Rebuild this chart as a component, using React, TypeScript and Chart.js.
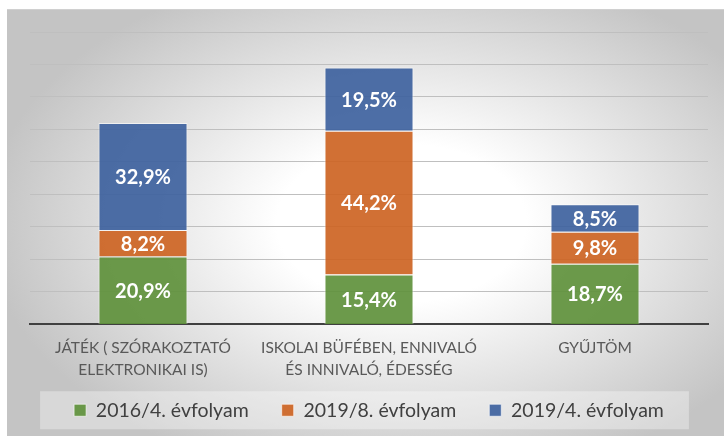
import React, { useEffect, useRef } from "react";
import { Chart, registerables } from "chart.js";

Chart.register(...registerables);

const categories: (string | string[])[] = [
  ["JÁTÉK ( SZÓRAKOZTATÓ", "ELEKTRONIKAI IS)"],
  ["ISKOLAI BÜFÉBEN, ENNIVALÓ", "ÉS INNIVALÓ, ÉDESSÉG"],
  "GYŰJTÖM",
];
const series2016g4 = [20.9, 15.4, 18.7];
const series2019g8 = [8.2, 44.2, 9.8];
const series2019g4 = [32.9, 19.5, 8.5];
const seriesNames = ["2016/4. évfolyam", "2019/8. évfolyam", "2019/4. évfolyam"];
const yMax = 90;
const yStep = 10;

const FONT = "Lato, 'Open Sans', sans-serif";
const LEGEND_OVERLAP = 19;

const valueLabels = {
  id: "valueLabels",
  afterDatasetsDraw(chart: any) {
    const ctx = chart.ctx;
    ctx.save();
    ctx.font = `bold 20px ${FONT}`;
    ctx.fillStyle = "#ffffff";
    ctx.textAlign = "center";
    ctx.textBaseline = "middle";
    chart.data.datasets.forEach((ds: any, i: number) => {
      const meta = chart.getDatasetMeta(i);
      meta.data.forEach((el: any, j: number) => {
        const v = ds.data[j];
        const y = (el.y + el.base) / 2;
        ctx.fillText(v.toFixed(1).replace(".", ",") + "%", el.x, y + 1);
      });
    });
    ctx.restore();
  },
};

// lets the legend's padded box overlap the bottom of the category labels, as in the original
const legendFit = {
  id: "legendFit",
  beforeLayout(chart: any) {
    const lg = chart.legend;
    if (lg && !lg.__patched) {
      const orig = lg.fit;
      lg.fit = function (this: any) {
        orig.call(this);
        this.height = Math.max(0, this.height - LEGEND_OVERLAP);
      };
      lg.__patched = true;
    }
  },
  afterLayout(chart: any) {
    const lg = chart.legend;
    if (lg) {
      lg.top -= LEGEND_OVERLAP;
      lg.height += LEGEND_OVERLAP;
    }
  },
};

const legendBg = {
  id: "legendBg",
  beforeDraw(chart: any) {
    const lg = chart.legend;
    if (!lg || !lg.legendHitBoxes || !lg.legendHitBoxes.length) return;
    const boxes = lg.legendHitBoxes;
    const left = Math.min(...boxes.map((b: any) => b.left)) - 34;
    const right = Math.max(...boxes.map((b: any) => b.left + b.width)) + 25;
    const mid = boxes[0].top + boxes[0].height / 2;
    const ctx = chart.ctx;
    ctx.save();
    ctx.fillStyle = "rgba(255,255,255,0.35)";
    ctx.fillRect(left, mid - 19, right - left, 38);
    ctx.restore();
  },
};

export default function App() {
  const ref = useRef<HTMLCanvasElement | null>(null);

  useEffect(() => {
    if (!ref.current) return;
    const chart = new Chart(ref.current, {
      type: "bar",
      data: {
        labels: categories,
        datasets: [
          {
            label: seriesNames[0],
            data: series2016g4,
            backgroundColor: "rgba(95,145,60,0.92)",
            borderColor: "rgba(255,255,255,0.6)",
            borderWidth: 1,
          },
          {
            label: seriesNames[1],
            data: series2019g8,
            backgroundColor: "rgba(205,100,35,0.92)",
            borderColor: "rgba(255,255,255,0.6)",
            borderWidth: 1,
          },
          {
            label: seriesNames[2],
            data: series2019g4,
            backgroundColor: "rgba(62,98,158,0.92)",
            borderColor: "rgba(255,255,255,0.6)",
            borderWidth: 1,
          },
        ],
      },
      options: {
        animation: false,
        responsive: false,
        maintainAspectRatio: false,
        layout: { padding: { left: 30, right: 16, top: 32, bottom: 6 } },
        datasets: {
          bar: { categoryPercentage: 0.4, barPercentage: 0.985 },
        },
        scales: {
          x: {
            stacked: true,
            grid: { display: false },
            border: { display: true, color: "#404040", width: 2 },
            ticks: {
              color: "#595959",
              font: { family: FONT, size: 15.5, lineHeight: 1.42 },
              padding: 5,
              maxRotation: 0,
              autoSkip: false,
            },
          },
          y: {
            stacked: true,
            min: 0,
            max: yMax,
            ticks: { display: false, stepSize: yStep },
            border: { display: false },
            grid: {
              color: (c: any) => (c.tick && c.tick.value === 0 ? "rgba(0,0,0,0)" : "#bfbfbf"),
              lineWidth: 1,
              drawTicks: false,
            },
          },
        },
        plugins: {
          legend: {
            position: "bottom",
            labels: {
              color: "#404040",
              font: { family: FONT, size: 19.5 },
              boxWidth: 12,
              boxHeight: 12,
              padding: 33,
            },
          },
          tooltip: { enabled: false },
        },
      },
      plugins: [legendFit, valueLabels, legendBg],
    });
    return () => chart.destroy();
  }, []);

  return (
    <div style={{ position: "absolute", left: 0, top: 0, width: 724, height: 436, background: "#ffffff" }}>
      <div
        style={{
          position: "absolute",
          left: 7,
          top: 9,
          right: 0,
          bottom: 0,
          background: "radial-gradient(ellipse 58% 62% at 55% 50%, #ffffff 30%, #c4c4c4 100%)",
          borderTop: "1px solid #d0d0d0",
        }}
      />
      <canvas ref={ref} width={724} height={436} style={{ position: "absolute", left: 0, top: 0 }} />
    </div>
  );
}
